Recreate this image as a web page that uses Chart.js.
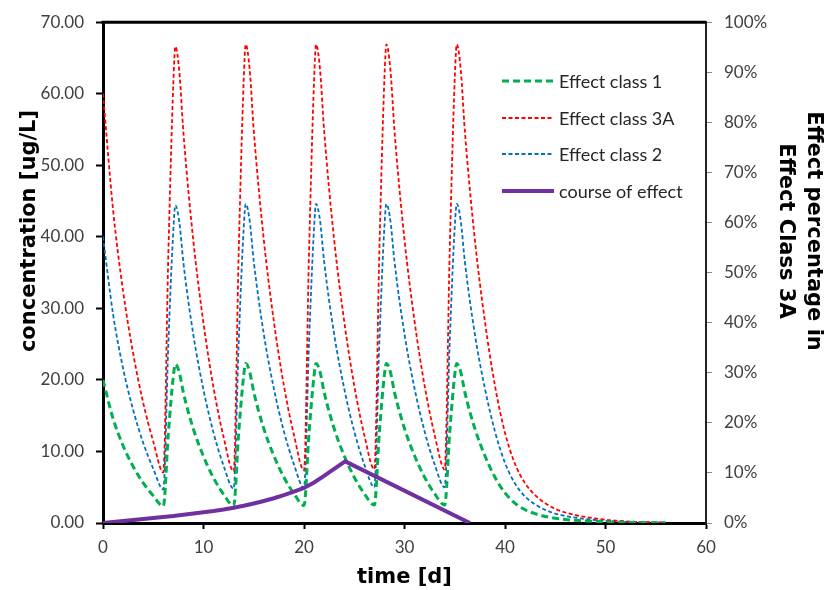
<!DOCTYPE html>
<html>
<head>
<meta charset="utf-8">
<script src="https://cdn.jsdelivr.net/npm/chart.js@4.4.0/dist/chart.umd.min.js"></script>
<style>
  html, body { margin: 0; padding: 0; background: #fff; }
  #wrap { width: 830px; height: 590px; }
</style>
</head>
<body>
<div id="wrap"><canvas id="chart"></canvas></div>
<script>
    "use strict";

    // time axis (days) shared by the three concentration series
    var times = [0, 1, 2, 3, 4, 5, 6,
        6.5, 7, 7.2, 7.6, 8, 9, 10, 11, 12, 13,
        13.5, 14, 14.2, 14.6, 15, 16, 17, 18, 19, 20,
        20.5, 21, 21.2, 21.6, 22, 23, 24, 25, 26, 27,
        27.5, 28, 28.2, 28.6, 29, 30, 31, 32, 33, 34,
        34.5, 35, 35.2, 35.6, 36, 37, 38, 39, 40, 41, 42, 43, 44, 45, 46, 47, 48, 49, 50, 52, 54, 56];

    // Effect class 1 [ug/L]
    var class1 = [20.0, 14.6, 10.8, 7.9, 5.6, 3.8, 2.35,
        12.5, 20.5, 22.2, 21.0, 18.2, 13.1, 9.3, 6.3, 4.0, 2.4,
        12.6, 20.6, 22.3, 21.1, 18.3, 13.2, 9.4, 6.4, 4.1, 2.45,
        12.6, 20.6, 22.3, 21.1, 18.3, 13.2, 9.4, 6.4, 4.1, 2.5,
        12.7, 20.7, 22.3, 21.1, 18.3, 13.2, 9.4, 6.4, 4.1, 2.5,
        12.7, 20.7, 22.3, 21.1, 18.3, 13.2, 9.4, 6.4, 4.2, 2.75, 1.85, 1.3, 0.92, 0.66, 0.49, 0.37, 0.28, 0.21, 0.15, 0.08, 0.04, 0.02];

    // Effect class 3A [ug/L]
    var class3A = [60.0, 43.8, 32.4, 23.7, 16.8, 11.4, 7.05,
        37.5, 61.5, 66.6, 63.0, 54.6, 39.3, 27.9, 18.9, 12.0, 7.2,
        37.8, 61.8, 66.9, 63.3, 54.9, 39.6, 28.2, 19.2, 12.3, 7.35,
        37.8, 61.8, 66.9, 63.3, 54.9, 39.6, 28.2, 19.2, 12.3, 7.5,
        38.1, 62.1, 66.9, 63.3, 54.9, 39.6, 28.2, 19.2, 12.3, 7.5,
        38.1, 62.1, 66.9, 63.3, 54.9, 39.6, 28.2, 19.2, 12.6, 8.25, 5.55, 3.9, 2.76, 1.98, 1.47, 1.11, 0.84, 0.63, 0.45, 0.24, 0.12, 0.06];

    // Effect class 2 [ug/L]
    var class2 = [40.0, 29.2, 21.6, 15.8, 11.2, 7.6, 4.7,
        25.0, 41.0, 44.4, 42.0, 36.4, 26.2, 18.6, 12.6, 8.0, 4.8,
        25.2, 41.2, 44.6, 42.2, 36.6, 26.4, 18.8, 12.8, 8.2, 4.9,
        25.2, 41.2, 44.6, 42.2, 36.6, 26.4, 18.8, 12.8, 8.2, 5.0,
        25.4, 41.4, 44.6, 42.2, 36.6, 26.4, 18.8, 12.8, 8.2, 5.0,
        25.4, 41.4, 44.6, 42.2, 36.6, 26.4, 18.8, 12.8, 8.4, 5.5, 3.7, 2.6, 1.84, 1.32, 0.98, 0.74, 0.56, 0.42, 0.3, 0.16, 0.08, 0.04];

    // course of effect (% on right axis)
    var effectTimes = [0, 1, 2, 3, 4, 5, 6, 7, 8, 9, 10, 11, 12, 13, 14, 15, 16, 17, 18, 19, 20, 21, 22, 23, 24.1, 36.5];
    var effectPct = [0, 0.2, 0.4, 0.6, 0.8, 1.0, 1.2, 1.4, 1.65, 1.9, 2.15, 2.4, 2.7, 3.05, 3.45, 3.9, 4.4, 4.95, 5.55, 6.25, 7.0, 8.1, 9.4, 10.8, 12.3, 0];

    var xTicks = [0, 10, 20, 30, 40, 50, 60];

    function toPoints(xs, ys) {
        return xs.map(function (t, i) { return {x: t, y: ys[i]}; });
    }

    var tickFont = {family: 'Lato', size: 17};
    var titleFont = {family: '"DejaVu Sans"', size: 21, weight: 'bold'};

    // Legend drawn inside the plot area, one item per row
    var innerLegend = {
        id: 'innerLegend',
        afterDraw: function (chart) {
            var ctx = chart.ctx;
            var rows = [81, 118, 154, 191];
            ctx.save();
            chart.data.datasets.forEach(function (ds, i) {
                var y = rows[i];
                ctx.beginPath();
                ctx.strokeStyle = ds.borderColor;
                ctx.lineWidth = ds.borderWidth;
                ctx.setLineDash(ds.borderDash || []);
                ctx.moveTo(502, y);
                ctx.lineTo(554, y);
                ctx.stroke();
                ctx.setLineDash([]);
                ctx.fillStyle = '#262626';
                ctx.font = '18px Lato';
                ctx.textBaseline = 'middle';
                ctx.textAlign = 'left';
                ctx.fillText(ds.label, 559, y + 1);
            });
            ctx.restore();
        }
    };

    // frame top line and the two vertical axis titles
    var frameAndTitles = {
        id: 'frameAndTitles',
        afterDraw: function (chart) {
            var ctx = chart.ctx;
            var a = chart.chartArea;
            ctx.save();
            ctx.beginPath();
            ctx.strokeStyle = '#000';
            ctx.lineWidth = 3;
            ctx.moveTo(a.left - 1.5, a.top);
            ctx.lineTo(a.right, a.top);
            ctx.stroke();

            ctx.fillStyle = '#000';
            ctx.font = 'bold 21px "DejaVu Sans"';
            ctx.textAlign = 'center';
            ctx.textBaseline = 'middle';

            ctx.save();
            ctx.translate(30, 231);
            ctx.rotate(-Math.PI / 2);
            ctx.fillText('concentration [ug/L]', 0, 0);
            ctx.restore();

            ctx.save();
            ctx.translate(813, 231);
            ctx.rotate(Math.PI / 2);
            ctx.fillText('Effect percentage in', 0, 0);
            ctx.fillText('Effect Class 3A', 0, 28);
            ctx.restore();
            ctx.restore();
        }
    };

    var ctx = document.getElementById('chart').getContext('2d');
    var myChart = new Chart(ctx, {
        type: 'line',
        data: {
            datasets: [{
                label: 'Effect class 1',
                data: toPoints(times, class1),
                borderColor: '#00B050',
                borderWidth: 3,
                borderDash: [7, 4],
                cubicInterpolationMode: 'monotone',
                pointRadius: 0,
                yAxisID: 'y',
                order: 2
            }, {
                label: 'Effect class 3A',
                data: toPoints(times, class3A),
                borderColor: '#FF0000',
                borderWidth: 1.8,
                borderDash: [4, 2.5],
                cubicInterpolationMode: 'monotone',
                pointRadius: 0,
                yAxisID: 'y',
                order: 3
            }, {
                label: 'Effect class 2',
                data: toPoints(times, class2),
                borderColor: '#0070C0',
                borderWidth: 1.8,
                borderDash: [4, 2.5],
                cubicInterpolationMode: 'monotone',
                pointRadius: 0,
                yAxisID: 'y',
                order: 4
            }, {
                label: 'course of effect',
                data: toPoints(effectTimes, effectPct),
                borderColor: '#7030A0',
                borderWidth: 4,
                tension: 0,
                pointRadius: 0,
                yAxisID: 'y1',
                order: 1
            }]
        },
        options: {
            responsive: true,
            maintainAspectRatio: false,
            animation: false,
            devicePixelRatio: 1,
            layout: {padding: {top: 21, left: 0, right: 0, bottom: 0}},
            plugins: {
                legend: {display: false},
                tooltip: {enabled: false}
            },
            scales: {
                x: {
                    type: 'linear',
                    position: 'bottom',
                    min: 0,
                    max: 60,
                    afterBuildTicks: function (s) {
                        s.ticks = xTicks.map(function (v) { return {value: v}; });
                    },
                    ticks: {color: '#404040', font: tickFont, padding: 8, maxRotation: 0},
                    grid: {drawOnChartArea: false, tickLength: 6, tickColor: '#000', tickWidth: 2},
                    border: {color: '#000', width: 3},
                    title: {display: true, text: 'time [d]', color: '#000', font: titleFont, padding: {top: 0, bottom: 0}},
                    afterFit: function (s) { s.height = 67; }
                },
                y: {
                    position: 'left',
                    min: 0,
                    max: 70,
                    ticks: {
                        stepSize: 10,
                        color: '#404040',
                        font: tickFont,
                        padding: 12,
                        callback: function (v) { return v.toFixed(2); }
                    },
                    grid: {drawOnChartArea: false, tickLength: 7, tickColor: '#000', tickWidth: 2},
                    border: {color: '#000', width: 3},
                    afterFit: function (s) { s.width = 103; }
                },
                y1: {
                    position: 'right',
                    min: 0,
                    max: 100,
                    ticks: {
                        stepSize: 10,
                        color: '#404040',
                        font: tickFont,
                        padding: 12,
                        callback: function (v) { return v + '%'; }
                    },
                    grid: {drawOnChartArea: false, tickLength: 6, tickColor: '#888', tickWidth: 1},
                    border: {color: '#222', width: 2},
                    afterFit: function (s) { s.width = 124; }
                }
            }
        },
        plugins: [innerLegend, frameAndTitles]
    });
</script>
</body>
</html>
